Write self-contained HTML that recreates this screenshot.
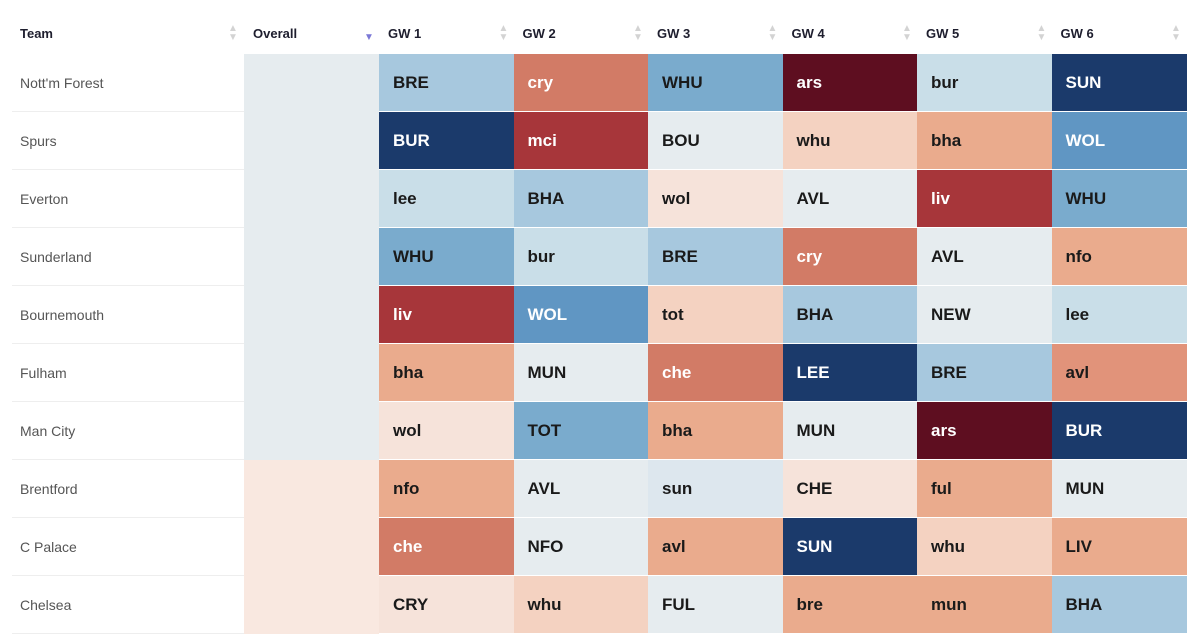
<!DOCTYPE html>
<html><head><meta charset="utf-8"><style>
body{margin:0;width:1200px;height:635px;background:#fff;font-family:"Liberation Sans",sans-serif;overflow:hidden;position:relative}
.h{position:absolute;top:26px;font-size:13px;font-weight:bold;color:#1e1e2e}
.s{position:absolute;top:24px;width:10px;height:18px;color:#d3d3d3;font-size:10px;line-height:9px;text-align:center}
.t{position:absolute;left:20px;font-size:14px;color:#555}
.c{position:absolute;box-sizing:border-box;font-size:17px;font-weight:bold;padding-left:14px;display:flex;align-items:center;border-bottom:1px solid #fff}
.ln{position:absolute;left:12px;width:232px;height:1px;background:#eee}
</style></head><body>
<div id="root"></div>
<script>
const teams=["Nott'm Forest","Spurs","Everton","Sunderland","Bournemouth","Fulham","Man City","Brentford","C Palace","Chelsea"];
const headers=["GW 1","GW 2","GW 3","GW 4","GW 5","GW 6"];
const opponents=[
["BRE","cry","WHU","ars","bur","SUN"],
["BUR","mci","BOU","whu","bha","WOL"],
["lee","BHA","wol","AVL","liv","WHU"],
["WHU","bur","BRE","cry","AVL","nfo"],
["liv","WOL","tot","BHA","NEW","lee"],
["bha","MUN","che","LEE","BRE","avl"],
["wol","TOT","bha","MUN","ars","BUR"],
["nfo","AVL","sun","CHE","ful","MUN"],
["che","NFO","avl","SUN","whu","LIV"],
["CRY","whu","FUL","bre","mun","BHA"]];
// difficulty: -5 easiest(dark blue) .. +5 hardest(dark red)
const difficulty=[
[-2,3,-3,5,-1,-5],
[-5,4,0,1.5,2,-4],
[-1,-2,1,0,4,-3],
[-3,-1,-2,3,0,2],
[4,-4,1.5,-2,0,-1],
[2,0,3,-5,-2,2.5],
[1,-3,2,0,5,-5],
[2,0,-0.5,1,2,0],
[3,0,2,-5,1.5,2],
[1,1.5,0,2,2,-2]];
const overall=[0,0,0,0,0,0,0,1,1,1];
const pal={"-5":"#1b3a6b","-4":"#6096c3","-3":"#7aabcd","-2":"#a7c8de","-1":"#c9dee8","-0.5":"#dde7ee","0":"#e6ecef","1":"#f6e3da","1.5":"#f4d2c1","2":"#eaab8d","2.5":"#e1937a","3":"#d27b66","4":"#a7363a","5":"#5e0e20"};
const root=document.getElementById('root');
const top0=54,rh=58,colX=[379,513.5,648,782.5,917,1051.5],cw=134.5;
function hdr(txt,x,name){const d=document.createElement('div');d.className='h';d.style.left=x+'px';d.textContent=txt;


root.appendChild(d);}
function sorter(x,name,active){const d=document.createElement('div');d.className='s';d.style.left=x+'px';
if(active){d.innerHTML='<br>▼';d.style.color='#7b78d6';}else d.innerHTML='▲<br>▼';


root.appendChild(d);}
hdr('Team',20,'team-header');sorter(228,'team-sort-icon',false);
hdr('Overall',253,'overall-header');sorter(364,'overall-sort-icon',true);
headers.forEach((h,i)=>{hdr(h,colX[i]+9,'gw'+(i+1)+'-header');sorter(colX[i]+cw-15,'gw'+(i+1)+'-sort-icon',false);});
teams.forEach((t,r)=>{
 const y=top0+r*rh;
 const l=document.createElement('div');l.className='t';l.style.top=(y+21)+'px';l.textContent=t;
 
 
 root.appendChild(l);
 const ln=document.createElement('div');ln.className='ln';ln.style.top=(y+rh-1)+'px';
 
 
 root.appendChild(ln);
 const o=document.createElement('div');o.className='c';
 o.style.cssText+=`left:244px;top:${y}px;width:135px;height:${rh}px;border:none;background:${overall[r]?'#f9e8e0':'#e6ecef'}`;
 
 
 root.appendChild(o);
 opponents[r].forEach((op,c)=>{
  const v=difficulty[r][c];const d=document.createElement('div');d.className='c';
  d.style.left=colX[c]+'px';d.style.top=y+'px';d.style.width=(cw+0.5)+'px';d.style.height=rh+'px';
  d.style.background=pal[String(v)];
  d.style.color=(v<=-4||v>=3)?'#fff':'#1a1a1a';
  d.textContent=op;
  
  
  root.appendChild(d);
 });
});
</script>
</body></html>
